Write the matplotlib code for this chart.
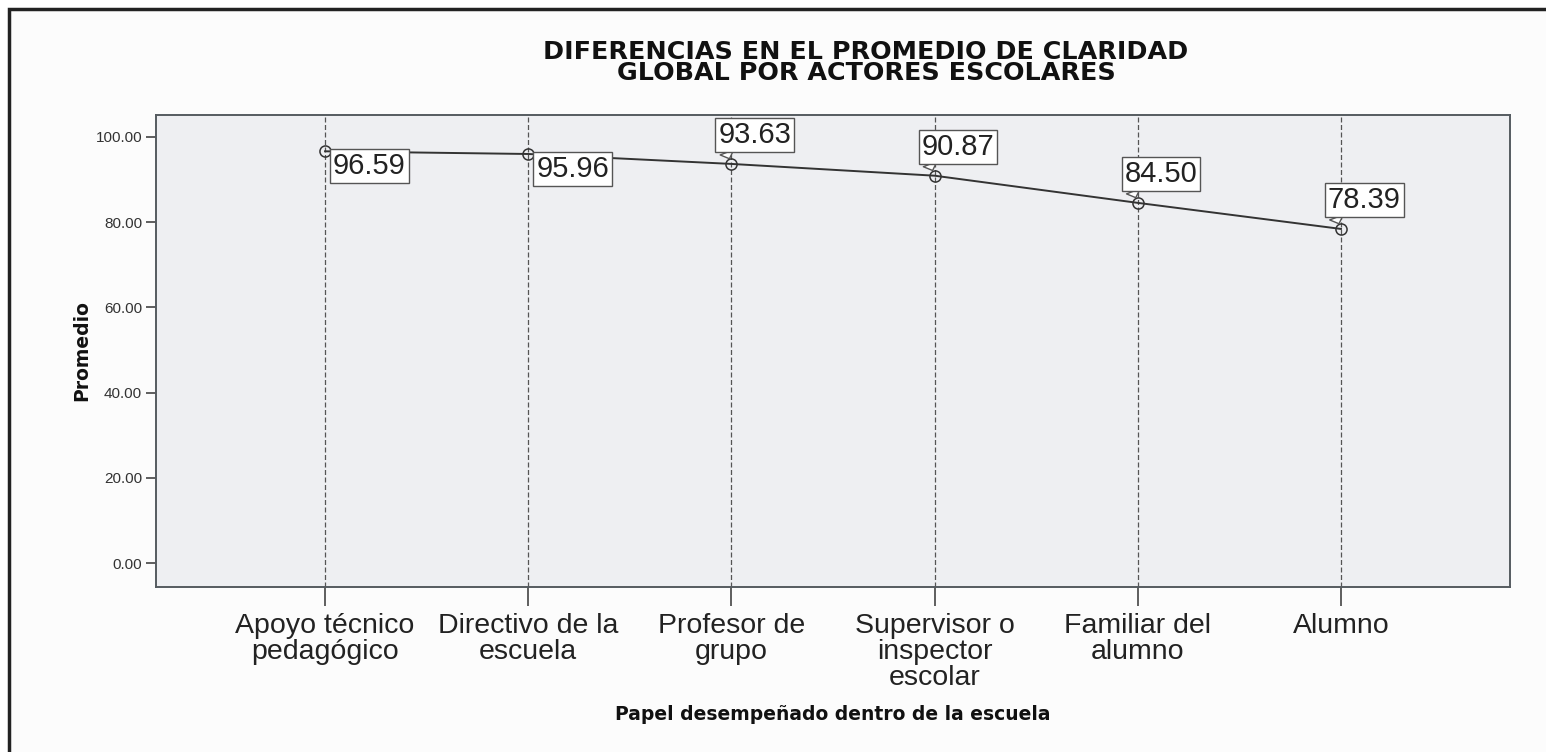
import matplotlib
matplotlib.use("Agg")
from matplotlib import pyplot as plt
from matplotlib.patches import Rectangle

plt.rcParams['font.family'] = ['Liberation Sans', 'DejaVu Sans']

categories = ["Apoyo técnico\npedagógico", "Directivo de la\nescuela", "Profesor de\ngrupo",
              "Supervisor o\ninspector\nescolar", "Familiar del\nalumno", "Alumno"]
means = [96.59, 95.96, 93.63, 90.87, 84.50, 78.39]
y_ticks = [0, 20, 40, 60, 80, 100]
# first two labels sit below-right of the point, the others above-right
label_below = [True, True, False, False, False, False]

title = "DIFERENCIAS EN EL PROMEDIO DE CLARIDAD\nGLOBAL POR ACTORES ESCOLARES"
x_title = "Papel desempeñado dentro de la escuela"
y_title = "Promedio"

fig = plt.figure(figsize=(15.46, 7.52), dpi=100)
fig.patch.set_facecolor('white')

# outer frame + light panel
fig.patches.append(Rectangle((9 / 1546, -0.05), 1.2, 1 - 9 / 752 + 0.05, transform=fig.transFigure,
                             facecolor='#fcfcfc', edgecolor='#222222', linewidth=2.5, zorder=-1))

ax = fig.add_axes([156 / 1546, 1 - 587 / 752, (1510 - 156) / 1546, (587 - 115) / 752])
ax.set_facecolor('#eeeff2')
for s in ax.spines.values():
    s.set_color('#555b60')
    s.set_linewidth(1.4)

x = list(range(len(categories)))
for xi in x:
    ax.axvline(xi, color='#555555', linestyle=(0, (4, 2)), linewidth=0.9, zorder=1)

ax.plot(x, means, color='#333333', linewidth=1.4, marker='o', markersize=8,
        markerfacecolor='none', markeredgecolor='#333333', markeredgewidth=1.1, zorder=3)

box = dict(boxstyle='square,pad=0.1', fc='white', ec='#555555', lw=1.0)
for xi, v, below in zip(x, means, label_below):
    if below:
        ax.annotate(f"{v:.2f}", (xi, v), xytext=(8, -1), textcoords='offset pixels',
                    ha='left', va='top', fontsize=21, color='#222222', zorder=4, bbox=box)
    else:
        ax.annotate(f"{v:.2f}", (xi, v), xytext=(-13, 15), textcoords='offset pixels',
                    ha='left', va='bottom', fontsize=21, color='#222222', zorder=4, bbox=box,
                    arrowprops=dict(arrowstyle='wedge,tail_width=0.5', fc='white', ec='#555555',
                                    lw=1.0, shrinkA=0, shrinkB=4, relpos=(0.1, 0.0)))

ax.set_xlim(-0.832, 5.832)
ax.set_ylim(-5.56, 105.1)
ax.set_yticks(y_ticks)
ax.set_yticklabels([f"{t:.2f}" for t in y_ticks], fontsize=11, color='#333333')
ax.set_xticks(x)
ax.set_xticklabels(categories, fontsize=20.5, color='#222222', linespacing=1.0)
ax.tick_params(axis='x', direction='out', length=14, width=1.2, color='#444444', pad=5)
ax.tick_params(axis='y', direction='out', length=7, width=1.2, color='#444444', pad=3)

ax.set_ylabel(y_title, fontsize=13.5, fontweight='bold', color='#111111', family='DejaVu Sans')
ax.yaxis.set_label_coords(-0.048, 0.5)
ax.set_xlabel(x_title, fontsize=13.5, fontweight='bold', color='#111111', family='DejaVu Sans')
ax.xaxis.set_label_coords(0.5, -0.25)

fig.text(866 / 1546, 1 - 40 / 752, title, ha='center', va='top', fontsize=18.3, family='DejaVu Sans',
         fontweight='bold', color='#111111', linespacing=0.86)

plt.savefig("out.png", dpi=100)
